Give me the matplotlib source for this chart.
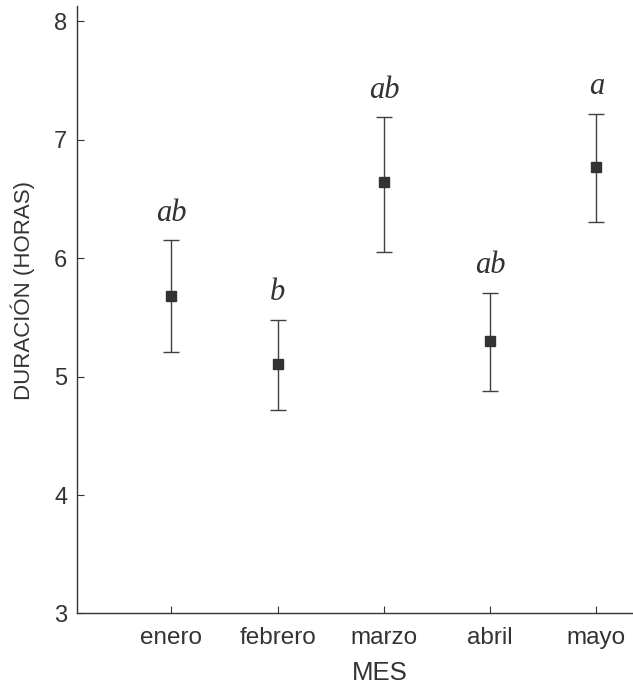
import numpy as np
import matplotlib
matplotlib.use('Agg')
import matplotlib.pyplot as plt

# data
months = ['enero', 'febrero', 'marzo', 'abril', 'mayo']
means = [5.68, 5.11, 6.64, 5.30, 6.77]
upper = [6.15, 5.48, 7.19, 5.71, 7.22]
lower = [5.21, 4.72, 6.05, 4.88, 6.31]
letters = ['ab', 'b', 'ab', 'ab', 'a']

plt.rcParams['font.family'] = ['Liberation Sans', 'DejaVu Sans']
dark = '#333333'

fig = plt.figure(figsize=(6.33, 6.86), dpi=100)
ax = fig.add_axes([0.1216, 0.1057, 0.958, 0.8856])

x = np.arange(1, len(months) + 1)
m = np.array(means)
yerr = [m - np.array(lower), np.array(upper) - m]
ax.errorbar(x, m, yerr=yerr, fmt='s', color=dark, ecolor='#404040',
            elinewidth=1.0, capsize=6, capthick=1.0, markersize=6.5)

# significance letters above each bar
for xi, top, lab in zip(x, upper, letters):
    ax.annotate(lab, (xi, top), xytext=(0, 14), textcoords='offset points',
                ha='center', va='baseline', fontsize=22, style='italic',
                family='Liberation Serif', color=dark)

ax.set_xlim(0.11, 5.82)
ax.set_ylim(3, 8.13)
ax.set_xticks(x)
ax.set_xticklabels(months)
ax.set_yticks([3, 4, 5, 6, 7, 8])

for s in ['top', 'right']:
    ax.spines[s].set_visible(False)
for s in ['left', 'bottom']:
    ax.spines[s].set_color(dark)
    ax.spines[s].set_linewidth(1.0)

ax.tick_params(axis='both', direction='in', length=5, width=0.8, colors=dark,
               labelcolor=dark)
ax.tick_params(axis='x', labelsize=17.5, pad=10)
ax.tick_params(axis='y', labelsize=17, pad=7)

ax.set_xlabel('MES', fontsize=18.5, color=dark)
ax.xaxis.set_label_coords(0.5, -0.078)
ax.set_ylabel('DURACIÓN (HORAS)', fontsize=16, color=dark)
ax.yaxis.set_label_coords(-0.07, 0.532)

fig.savefig('out.png', dpi=100)
